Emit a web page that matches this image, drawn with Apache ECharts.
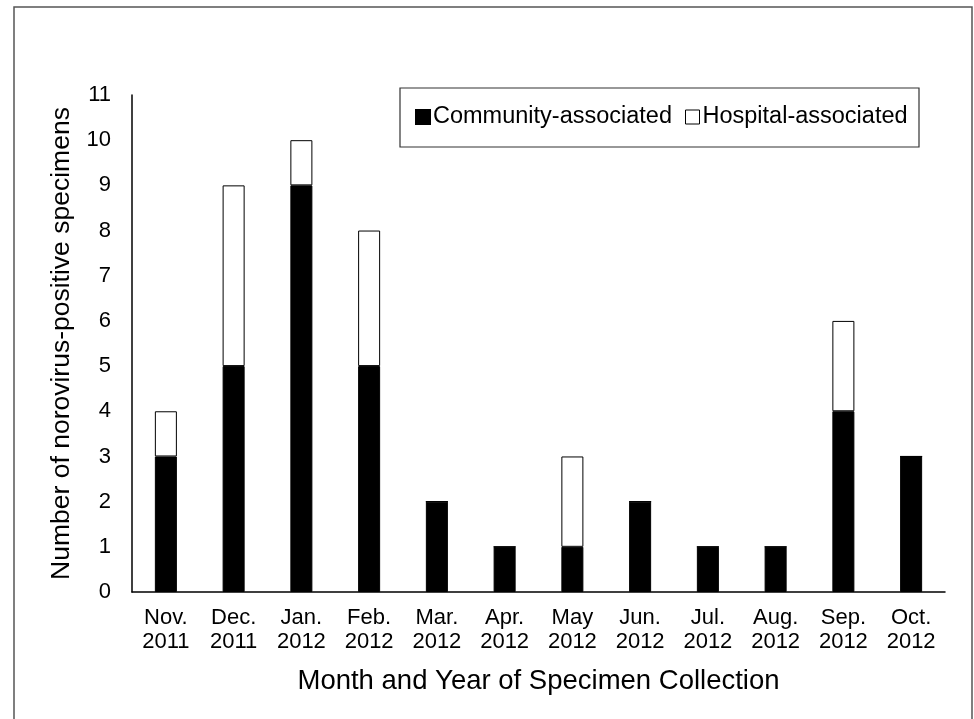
<!DOCTYPE html>
<html><head><meta charset="utf-8">
<script src="https://cdn.jsdelivr.net/npm/echarts@6/dist/echarts.min.js"></script>
<style>html,body{margin:0;padding:0;background:#fff}#c{width:974px;height:719px}</style>
</head><body><div id="c"></div>
<script>
const categories = ['Nov.\n2011','Dec.\n2011','Jan.\n2012','Feb.\n2012','Mar.\n2012','Apr.\n2012','May\n2012','Jun.\n2012','Jul.\n2012','Aug.\n2012','Sep.\n2012','Oct.\n2012'];
const community = [3,5,9,5,2,1,1,2,1,1,4,3];
const hospital = [1,4,1,3,0,0,2,0,0,0,2,0];
const yTicks = [0,1,2,3,4,5,6,7,8,9,10,11];

const font = 'Liberation Sans, Arial, sans-serif';
const chart = echarts.init(document.getElementById('c'));
chart.setOption({
  animation:false,
  backgroundColor:'#fff',
  textStyle:{fontFamily:font,color:'#000'},
  graphic:[
    {type:'rect',shape:{x:14,y:7,width:958,height:740},style:{fill:'none',stroke:'#555',lineWidth:1.5}},
    {type:'rect',shape:{x:400,y:88,width:519,height:59},style:{fill:'#fff',stroke:'#333',lineWidth:1.2},z:-1}
  ],
  legend:{
    left:410, top:100, itemWidth:14, itemHeight:14, itemGap:13,
    icon:'rect',
    textStyle:{fontSize:23.5,fontFamily:font,color:'#000',padding:[0,0,0,-2]},
    data:[{name:'Community-associated',itemStyle:{color:'#000'}},{name:'Hospital-associated',itemStyle:{color:'#fff',borderColor:'#000',borderWidth:1}}]
  },
  grid:{left:132,right:29,top:95,bottom:127,containLabel:false},
  xAxis:{
    type:'category', data:categories,
    axisLine:{lineStyle:{color:'#000',width:1.5}},
    axisTick:{show:false},
    axisLabel:{fontSize:22,color:'#000',fontFamily:font,lineHeight:24,margin:14,interval:0},
    name:'Month and Year of Specimen Collection', nameLocation:'middle', nameGap:75,
    nameTextStyle:{fontSize:27.5,color:'#000',fontFamily:font}
  },
  yAxis:{
    type:'value', min:0, max:11, interval:1,
    axisLine:{show:true,lineStyle:{color:'#000',width:1.5}},
    axisTick:{show:false},
    splitLine:{show:false},
    axisLabel:{fontSize:22,color:'#000',fontFamily:font,margin:21,
      formatter:v=>yTicks.includes(v)?String(v):''},
    name:'Number of norovirus-positive specimens', nameLocation:'middle', nameGap:57,
    nameTextStyle:{fontSize:26.5,color:'#000',fontFamily:font}
  },
  series:[
    {name:'Community-associated',type:'bar',stack:'a',data:community,barWidth:'32.5%',
     itemStyle:{color:'#000',borderColor:'#000',borderWidth:1}},
    {name:'Hospital-associated',type:'bar',stack:'a',data:hospital,barWidth:'32.5%',
     itemStyle:{color:'#fff',borderColor:'#000',borderWidth:1}}
  ]
});
</script></body></html>
